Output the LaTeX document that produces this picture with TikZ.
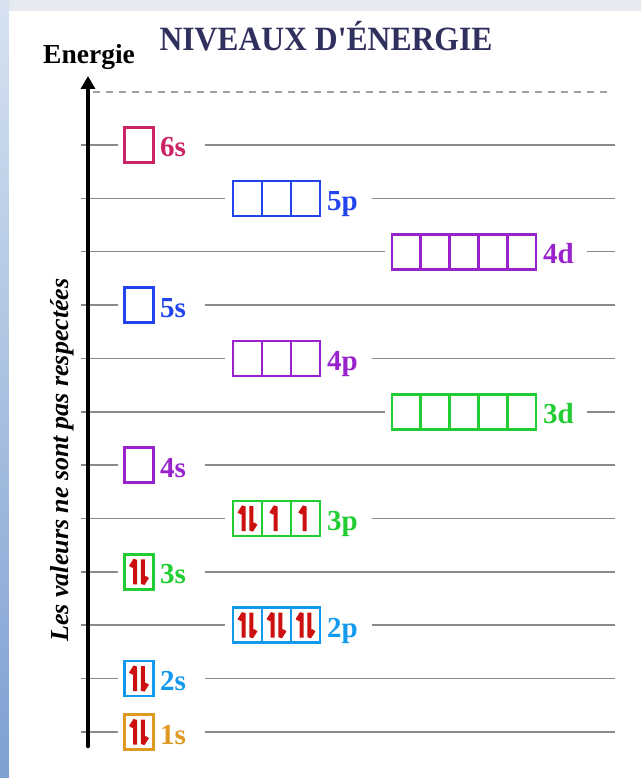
\documentclass[tikz,border=0pt]{standalone}
\usepackage{fontspec}
\setmainfont{Liberation Serif}
\newfontfamily\titlefont[FakeStretch=0.93, Ligatures=TeXOff]{Liberation Serif}
\usetikzlibrary{arrows.meta}
\definecolor{cpink}{HTML}{CC2266}
\definecolor{cblue}{HTML}{2244EE}
\definecolor{cpurple}{HTML}{9922CC}
\definecolor{cgreen}{HTML}{22CC33}
\definecolor{clblue}{HTML}{1199EE}
\definecolor{corange}{HTML}{DD9922}
\definecolor{cred}{HTML}{CC1010}
\definecolor{ctitle}{HTML}{30305F}
\definecolor{cline}{HTML}{8A8A8A}
\definecolor{cframe}{HTML}{E6EBF2}
\definecolor{cstripa}{HTML}{D6E2F0}
\definecolor{cstripb}{HTML}{7DA0D2}
\tikzset{
  cell/.style={rectangle, minimum width=29pt, minimum height=35pt, inner sep=0pt, line width=2.7pt},
  lvl/.style={cline, line width=1.5pt},
  elec/.style={cred, line width=4pt, line cap=butt, line join=bevel},
  olabel/.style={anchor=base west, inner sep=0pt, font=\fontsize{29}{29}\selectfont\bfseries},
}
\newcommand\eu[2]{\draw[elec] (#1,#2+12.5) -- (#1,#2-12) -- (#1-4.5,#2-5);}
\newcommand\ed[2]{\draw[elec] (#1,#2-12.5) -- (#1,#2+12) -- (#1+4.5,#2+5);}
\newcommand\ep[2]{\eu{#1-3.8}{#2}\ed{#1+3.8}{#2}}
\newcommand\sorb[4]{%
  \draw[lvl] (81,#2) -- (118,#2);
  \node[cell, draw=#3] (#1a) at (139,#2) {};
  \node[olabel, text=#3] (#1l) at (160,#2+12) {#4};
  \draw[lvl] (205,#2) -- (615,#2);
}
\newcommand\porb[4]{%
  \draw[lvl] (81,#2) -- (225,#2);
  \node[cell, draw=#3] (#1a) at (247.5,#2) {};
  \node[cell, draw=#3] (#1b) at (276.5,#2) {};
  \node[cell, draw=#3] (#1c) at (305.5,#2) {};
  \node[olabel, text=#3] (#1l) at (327,#2+12) {#4};
  \draw[lvl] (372,#2) -- (615,#2);
}
\newcommand\dorb[4]{%
  \draw[lvl] (81,#2) -- (385,#2);
  \node[cell, draw=#3] (#1a) at (406.4,#2) {};
  \node[cell, draw=#3] (#1b) at (435.2,#2) {};
  \node[cell, draw=#3] (#1c) at (464.0,#2) {};
  \node[cell, draw=#3] (#1d) at (492.8,#2) {};
  \node[cell, draw=#3] (#1e) at (521.6,#2) {};
  \node[olabel, text=#3] (#1l) at (543,#2+12) {#4};
  \draw[lvl] (587,#2) -- (615,#2);
}
\begin{document}
\begin{tikzpicture}[x=1pt,y=-1pt]
\useasboundingbox (0,0) rectangle (641,778);
\fill[cframe] (0,0) rectangle (641,778);
\shade[top color=cstripa, bottom color=cstripb] (0,0) rectangle (9,778);
\fill[white] (9,10) rectangle (641,778);
\fill[black!8] (9,10) rectangle (641,11.5);
\node[anchor=base, inner sep=0pt, text=ctitle, font=\fontsize{34}{34}\titlefont\bfseries] (title) at (326,51) {NIVEAUX D'ÉNERGIE};
\node[anchor=base west, inner sep=0pt, font=\fontsize{27.5}{27.5}\selectfont\bfseries] (elab) at (43,64) {Energie};
\node[anchor=base, rotate=90, inner sep=0pt, font=\fontsize{26}{26}\selectfont\bfseries\itshape] (note) at (68,460) {Les valeurs ne sont pas respectées};
\draw[cline!80, line width=1.2pt, dash pattern=on 7pt off 6pt] (93,92) -- (610,92);
\sorb{s6}{145.0}{cpink}{6s}
\porb{p5}{198.4}{cblue}{5p}
\dorb{d4}{251.7}{cpurple}{4d}
\sorb{s5}{305.1}{cblue}{5s}
\porb{p4}{358.4}{cpurple}{4p}
\dorb{d3}{411.8}{cgreen}{3d}
\sorb{s4}{465.2}{cpurple}{4s}
\porb{p3}{518.5}{cgreen}{3p}
\sorb{s3}{571.9}{cgreen}{3s}
\porb{p2}{625.2}{clblue}{2p}
\sorb{s2}{678.6}{clblue}{2s}
\sorb{s1}{732.0}{corange}{1s}
\ep{139}{732.0}
\ep{139}{678.6}
\ep{247.5}{625.2}\ep{276.5}{625.2}\ep{305.5}{625.2}
\ep{139}{571.9}
\ep{247.5}{518.5}\eu{275.5}{518.5}\eu{304.5}{518.5}
\coordinate (axb) at (88,746);
\coordinate (axt) at (88,76);
\draw[line width=4.6pt, line cap=round, -{Triangle[length=13pt,width=14pt]}] (axb) -- (axt);
\end{tikzpicture}
\end{document}
